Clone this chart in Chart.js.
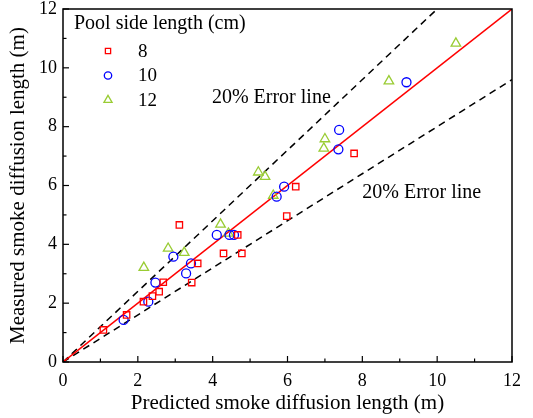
<!DOCTYPE html>
<html>
<head>
<meta charset="utf-8">
<script src="https://cdn.jsdelivr.net/npm/chart.js@4.4.0/dist/chart.umd.min.js"></script>
<style>
  html, body { margin: 0; padding: 0; background: #fff; }
  #wrap { width: 533px; height: 418px; }
</style>
</head>
<body>
<div id="wrap"><canvas id="smokeChart" width="533" height="418"></canvas></div>
<script>
// predicted (x) vs measured (y), metres
const side8X = [1.08, 1.70, 2.15, 2.39, 2.57, 2.68, 3.44, 3.60, 3.11, 4.29, 4.67, 4.78, 5.98, 6.22, 7.78];
const side8Y = [1.09, 1.60, 2.05, 2.24, 2.39, 2.71, 2.70, 3.35, 4.66, 3.69, 4.32, 3.69, 4.96, 5.96, 7.09];
const side10X = [1.62, 2.28, 2.47, 2.95, 3.29, 3.42, 4.11, 4.45, 4.57, 5.71, 5.91, 7.36, 7.38, 9.18];
const side10Y = [1.43, 2.05, 2.70, 3.58, 3.01, 3.35, 4.32, 4.32, 4.32, 5.62, 5.96, 7.23, 7.89, 9.51];
const side12X = [2.16, 2.81, 3.24, 4.21, 4.42, 5.22, 5.40, 5.62, 6.97, 7.00, 8.71, 10.50];
const side12Y = [3.21, 3.86, 3.72, 4.68, 4.37, 6.45, 6.30, 5.66, 7.26, 7.58, 9.55, 10.83];
const seriesNames = ['8', '10', '12'];
const lineX = [0, 12];
const errorFactors = [1.2, 0.8];
const axisTicks = [0, 2, 4, 6, 8, 10, 12];

const serif = "'Liberation Serif', 'Times New Roman', serif";
const toPoints = (xs, ys) => xs.map((x, i) => ({ x: x, y: ys[i] }));
const refLine = (k) => lineX.map(x => ({ x: x, y: x * k }));

const markers = [
  { name: seriesNames[0], data: toPoints(side8X, side8Y), color: '#ff0000', style: 'rect', r: 4.5 },
  { name: seriesNames[1], data: toPoints(side10X, side10Y), color: '#0000ff', style: 'circle', r: 4.5 },
  { name: seriesNames[2], data: toPoints(side12X, side12Y), color: '#99cc33', style: 'triangle', r: 5.5 }
];

const datasets = markers.map(m => ({
  label: m.name,
  data: m.data,
  showLine: false,
  pointStyle: m.style,
  pointRadius: m.r,
  pointBorderWidth: 1.3,
  borderColor: m.color,
  backgroundColor: 'rgba(0,0,0,0)',
  pointBackgroundColor: 'rgba(0,0,0,0)'
}));
datasets.push({ label: 'fit', data: refLine(1), showLine: true, pointRadius: 0, borderColor: '#ff0000', borderWidth: 1.5 });
errorFactors.forEach(k => datasets.push({
  label: 'err' + k, data: refLine(k), showLine: true, pointRadius: 0,
  borderColor: '#000', borderWidth: 1.5, borderDash: [7, 5]
}));

const framePlugin = {
  id: 'frame',
  afterDatasetsDraw(chart) {
    const { ctx, chartArea: a, scales } = chart;
    ctx.save();
    ctx.strokeStyle = '#000';
    ctx.lineWidth = 1.5;
    ctx.strokeRect(a.left, a.top, a.right - a.left, a.bottom - a.top);
    ctx.lineWidth = 1.2;
    for (let v = 0; v <= 12; v++) {
      const len = v % 2 === 0 ? 6 : 3.5;
      const px = scales.x.getPixelForValue(v);
      ctx.beginPath(); ctx.moveTo(px, a.bottom); ctx.lineTo(px, a.bottom - len); ctx.stroke();
      const py = scales.y.getPixelForValue(v);
      ctx.beginPath(); ctx.moveTo(a.left, py); ctx.lineTo(a.left + len, py); ctx.stroke();
    }
    // error line labels
    ctx.fillStyle = '#000';
    ctx.font = '20px ' + serif;
    ctx.textBaseline = 'middle';
    ctx.fillText('20% Error line', scales.x.getPixelForValue(3.98), scales.y.getPixelForValue(9.0));
    ctx.fillText('20% Error line', scales.x.getPixelForValue(8.0), scales.y.getPixelForValue(5.74));
    // legend
    ctx.font = '20px ' + serif;
    ctx.fillText('Pool side length (cm)', a.left + 11, a.top + 15);
    markers.forEach((m, i) => {
      const y = a.top + 42 + i * 24.5;
      ctx.strokeStyle = m.color;
      ctx.fillStyle = 'rgba(0,0,0,0)';
      ctx.lineWidth = 1.3;
      Chart.helpers.drawPoint(ctx, { pointStyle: m.style, radius: m.r - 0.8, borderWidth: 1.3 }, a.left + 45, y);
      ctx.fillStyle = '#000';
      ctx.font = '19px ' + serif;
      ctx.fillText(m.name, a.left + 75, y + 1);
    });
    ctx.restore();
  }
};

const axisCommon = {
  type: 'linear', min: 0, max: 12,
  grid: { display: false, drawTicks: false },
  border: { display: false },
  afterBuildTicks: (s) => { s.ticks = axisTicks.map(v => ({ value: v })); }
};

new Chart(document.getElementById('smokeChart'), {
  type: 'scatter',
  data: { datasets: datasets },
  options: {
    responsive: false,
    animation: false,
    layout: { padding: { top: 9, right: 21, left: 0, bottom: 0 } },
    plugins: { legend: { display: false }, tooltip: { enabled: false } },
    scales: {
      x: Object.assign({}, axisCommon, {
        ticks: { color: '#000', font: { family: serif, size: 18 }, padding: 8, maxRotation: 0 },
        title: { display: true, text: 'Predicted smoke diffusion length (m)', color: '#000',
                 font: { family: serif, size: 21 }, padding: { top: 0, bottom: 2 } },
        afterFit: (s) => { s.height = 56; s.paddingLeft = 0; s.paddingRight = 0; }
      }),
      y: Object.assign({}, axisCommon, {
        ticks: { color: '#000', font: { family: serif, size: 18 }, padding: 6 },
        title: { display: true, text: 'Measured smoke diffusion length (m)', color: '#000',
                 font: { family: serif, size: 21 }, padding: { top: 6, bottom: 0 } },
        afterFit: (s) => { s.width = 63; s.paddingTop = 0; s.paddingBottom = 0; }
      })
    }
  },
  plugins: [framePlugin]
});
</script>
</body>
</html>
